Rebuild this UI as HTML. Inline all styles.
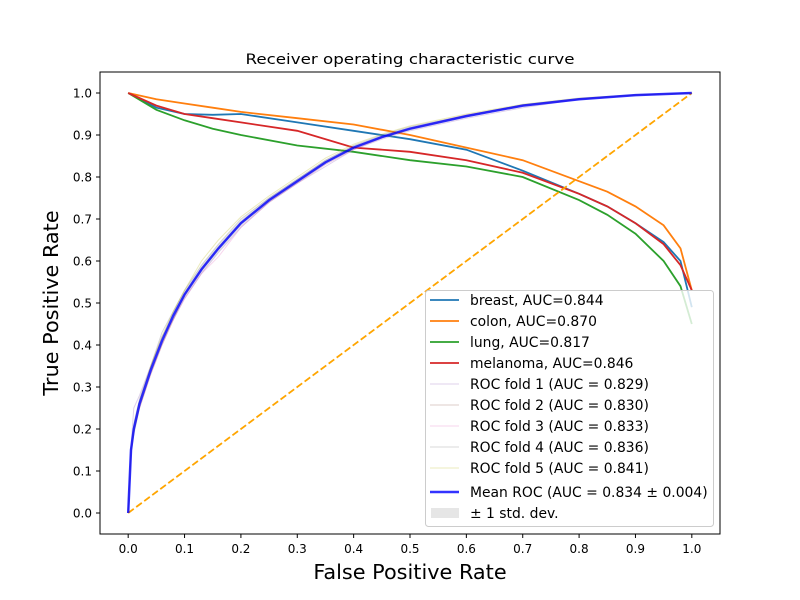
<!DOCTYPE html>
<html><head><meta charset="utf-8"><style>
body{margin:0;background:#fff;}
svg{display:block;font-family:"DejaVu Sans","Liberation Sans",sans-serif;}
</style></head><body>
<svg id="chart" width="800" height="600" viewBox="0 0 800 600">
<rect width="800" height="600" fill="#fff"/>
<text x="410" y="64" font-size="14" text-anchor="middle" textLength="329" lengthAdjust="spacingAndGlyphs">Receiver operating characteristic curve</text>
<g id="plot"></g>
<text x="410" y="579" font-size="20.8" text-anchor="middle">False Positive Rate</text>
<text transform="translate(58,303) rotate(-90)" font-size="20.8" text-anchor="middle">True Positive Rate</text>
</svg>
<script>
const ticks = [0,0.1,0.2,0.3,0.4,0.5,0.6,0.7,0.8,0.9,1.0];
const tickLabels = ["0.0","0.1","0.2","0.3","0.4","0.5","0.6","0.7","0.8","0.9","1.0"];
const cancerX = [0,0.05,0.1,0.15,0.2,0.3,0.4,0.5,0.6,0.7,0.8,0.85,0.9,0.95,0.98,1.0];
const breastY = [1,0.965,0.95,0.948,0.95,0.93,0.91,0.89,0.865,0.815,0.76,0.73,0.69,0.645,0.6,0.49];
const colonY = [1,0.985,0.975,0.965,0.955,0.94,0.925,0.9,0.87,0.84,0.79,0.765,0.73,0.685,0.63,0.53];
const lungY = [1,0.96,0.935,0.915,0.9,0.875,0.86,0.84,0.825,0.8,0.745,0.71,0.665,0.6,0.54,0.45];
const melanomaY = [1,0.97,0.95,0.94,0.93,0.91,0.87,0.86,0.84,0.81,0.76,0.73,0.69,0.64,0.59,0.53];
const rocX = [0,0.005,0.01,0.02,0.04,0.06,0.08,0.1,0.13,0.16,0.2,0.25,0.3,0.35,0.4,0.45,0.5,0.6,0.7,0.8,0.9,1.0];
const meanY = [0,0.15,0.2,0.26,0.34,0.41,0.47,0.52,0.58,0.63,0.69,0.745,0.79,0.835,0.87,0.895,0.915,0.945,0.97,0.985,0.995,1.0];
const fold1Y = [0,0.16,0.25,0.28,0.35,0.42,0.46,0.51,0.57,0.62,0.68,0.74,0.785,0.825,0.865,0.89,0.91,0.94,0.965,0.985,0.995,1.0];
const fold2Y = [0,0.14,0.19,0.25,0.33,0.4,0.46,0.52,0.58,0.63,0.69,0.745,0.79,0.835,0.87,0.895,0.915,0.945,0.97,0.985,0.995,1.0];
const fold3Y = [0,0.14,0.2,0.25,0.33,0.4,0.46,0.51,0.57,0.61,0.68,0.74,0.785,0.83,0.865,0.893,0.915,0.948,0.97,0.985,0.995,1.0];
const fold4Y = [0,0.15,0.21,0.27,0.35,0.43,0.48,0.53,0.59,0.64,0.7,0.75,0.795,0.84,0.875,0.9,0.92,0.947,0.972,0.987,0.996,1.0];
const fold5Y = [0,0.15,0.2,0.26,0.35,0.42,0.48,0.53,0.6,0.65,0.705,0.755,0.8,0.845,0.878,0.902,0.922,0.95,0.973,0.988,0.996,1.0];
const stdDev = [0,0.01,0.02,0.015,0.01,0.012,0.01,0.01,0.01,0.01,0.008,0.007,0.006,0.006,0.005,0.004,0.004,0.003,0.003,0.002,0.001,0];
const legendLabels = ["breast, AUC=0.844","colon, AUC=0.870","lung, AUC=0.817","melanoma, AUC=0.846","ROC fold 1 (AUC = 0.829)","ROC fold 2 (AUC = 0.830)","ROC fold 3 (AUC = 0.833)","ROC fold 4 (AUC = 0.836)","ROC fold 5 (AUC = 0.841)","Mean ROC (AUC = 0.834 \u00b1 0.004)","\u00b1 1 std. dev."];

const NS="http://www.w3.org/2000/svg";
const L=100,R=720,T=72,B=534;
const xs=v=>L+(v+0.05)/1.1*(R-L);
const ys=v=>B-(v+0.05)/1.1*(B-T);
const plot=document.getElementById('plot');
function mk(tag,attrs,parent){const e=document.createElementNS(NS,tag);for(const k in attrs)e.setAttribute(k,attrs[k]);(parent||plot).appendChild(e);return e;}
function pts(X,Y){return X.map((x,i)=>xs(x).toFixed(1)+','+ys(Y[i]).toFixed(1)).join(' ');}

const up=rocX.map((x,i)=>xs(x)+','+ys(Math.min(1,meanY[i]+stdDev[i]))).join(' ');
const lo=rocX.slice().reverse().map((x,j)=>{const i=rocX.length-1-j;return xs(x)+','+ys(Math.max(0,meanY[i]-stdDev[i]));}).join(' ');
let band=mk('polygon',{points:up+' '+lo,fill:'#808080','fill-opacity':0.2});



const cancers=[[breastY,'#1f77b4','breast-curve'],[colonY,'#ff7f0e','colon-curve'],[lungY,'#2ca02c','lung-curve'],[melanomaY,'#d62728','melanoma-curve']];
cancers.forEach(c=>{const e=mk('polyline',{points:pts(cancerX,c[0]),fill:'none',stroke:c[1],'stroke-width':1.8});

});

const folds=[[fold1Y,'#9467bd'],[fold2Y,'#8c564b'],[fold3Y,'#e377c2'],[fold4Y,'#7f7f7f'],[fold5Y,'#bcbd22']];
folds.forEach((f,i)=>{const e=mk('polyline',{points:pts(rocX,f[0]),fill:'none',stroke:f[1],'stroke-width':1,'stroke-opacity':0.3});

});

let diag=mk('line',{x1:xs(0),y1:ys(0),x2:xs(1),y2:ys(1),stroke:'orange','stroke-width':1.8,'stroke-dasharray':'7,3'});



let mean=mk('polyline',{points:pts(rocX,meanY),fill:'none',stroke:'#0000ff','stroke-opacity':0.8,'stroke-width':2.5});



let frame=mk('rect',{x:L,y:T,width:R-L,height:B-T,fill:'none',stroke:'#000','stroke-width':1});



ticks.forEach((t,i)=>{
  let a=mk('line',{x1:xs(t),x2:xs(t),y1:B,y2:B+4,stroke:'#000'});
  
  
  let tx=mk('text',{x:xs(t),y:B+19,'font-size':12,'text-anchor':'middle'});tx.textContent=tickLabels[i];
  
  
  let b=mk('line',{x1:L-4,x2:L,y1:ys(t),y2:ys(t),stroke:'#000'});
  
  
  let ty=mk('text',{x:L-8,y:ys(t)+4.5,'font-size':12,'text-anchor':'end'});ty.textContent=tickLabels[i];
  
  
});

const lg=mk('g',{});


mk('rect',{x:425.5,y:290.5,width:288,height:236,rx:3,fill:'#fff','fill-opacity':0.8,stroke:'#ccc'},lg);
const lcol=['#1f77b4','#ff7f0e','#2ca02c','#d62728','#9467bd','#8c564b','#e377c2','#7f7f7f','#bcbd22'];
legendLabels.forEach((lab,i)=>{
  const y=i<9?300+i*21:(i==9?492:513);
  let sw;
  if(i<9) sw=mk('line',{x1:430,x2:459,y1:y,y2:y,stroke:lcol[i],'stroke-width':i<4?1.8:1,'stroke-opacity':i<4?1:0.3},lg);
  else if(i==9) sw=mk('line',{x1:430,x2:459,y1:y,y2:y,stroke:'#0000ff','stroke-opacity':0.8,'stroke-width':2.5},lg);
  else sw=mk('rect',{x:431,y:y-5,width:28,height:10,fill:'#808080','fill-opacity':0.2},lg);
  
  
  const t=mk('text',{x:470,y:y+5,'font-size':13.9},lg);t.textContent=lab;
  
  
});
</script>
</body></html>
